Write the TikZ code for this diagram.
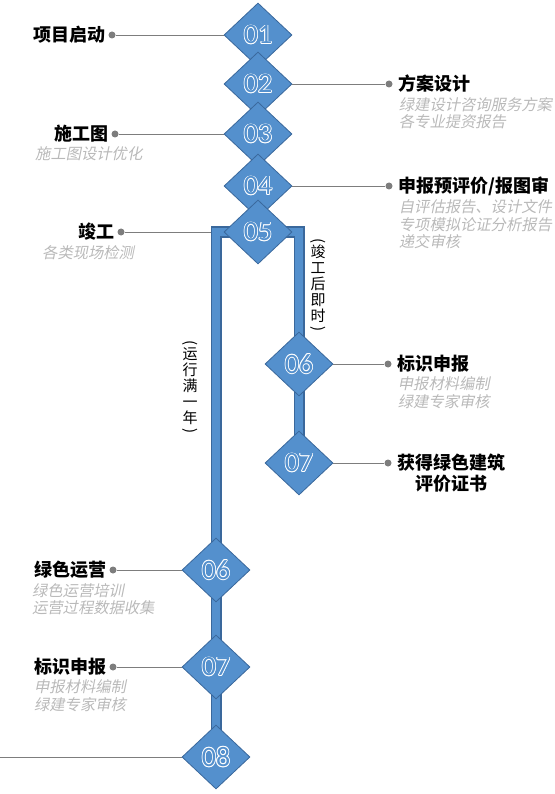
\documentclass[tikz,border=0pt]{standalone}
\usepackage{fontspec}
\usepackage{graphicx}
\setmainfont{Noto Sans CJK SC}
\newfontfamily\numfont{Carlito}
\newfontfamily\subfont{Noto Sans CJK SC}[FakeSlant=0.2]
\usetikzlibrary{positioning,shapes.geometric,backgrounds}

\definecolor{dblue}{RGB}{84,144,205}
\definecolor{bblue}{RGB}{58,104,156}
\definecolor{lgray}{RGB}{185,185,185}
\definecolor{dgray}{RGB}{125,125,125}

% white outlined numbers
\newcommand\outnum[1]{%
\foreach \dx/\dy in {0.8/0,-0.8/0,0/0.8,0/-0.8,0.55/0.55,-0.55/0.55,0.55/-0.55,-0.55/-0.55}{%
\rlap{\hspace*{\dx pt}\raisebox{\dy pt}{\color{white}#1}}}%
\textcolor{dblue}{#1}}
% turned bracket for upright text
\newcommand\vbr[1]{\rotatebox[origin=c]{-90}{#1}}

\begin{document}
\begin{tikzpicture}[x=1pt,y=-1pt]
\tikzstyle{stage}=[diamond,draw=bblue,line width=0.8pt,fill=dblue,minimum width=68pt,minimum height=64pt,inner sep=0pt,font=\numfont\fontsize{28}{28}\selectfont];
\tikzstyle{knob}=[circle,fill=dgray,minimum size=7pt,inner sep=0pt];
\tikzstyle{headline}=[inner sep=0pt,font=\bfseries\fontsize{18}{21}\selectfont];
\tikzstyle{subline}=[inner sep=0pt,align=left,text=lgray,font=\subfont\fontsize{15.3}{17.5}\selectfont];
\tikzstyle{link}=[dgray,line width=0.9pt];
\tikzstyle{track}=[bblue,line width=1.3pt,double=dblue,double distance=8.4pt];
\tikzstyle{vlabel}=[inner sep=0pt,align=center,font=\fontsize{15}{16}\selectfont];

\useasboundingbox (0,0) rectangle (554,794);

% main line
\node[stage] (d01) at (258,35) {\outnum{01}};
\node[stage] (d02) at (258,84) {\outnum{02}};
\node[stage] (d03) at (258,134) {\outnum{03}};
\node[stage] (d04) at (258,186) {\outnum{04}};
\node[stage] (d05) at (258,232) {\outnum{05}};
% right branch
\node[stage] (r06) at (299,364) {\outnum{06}};
\node[stage] (r07) at (299,463) {\outnum{07}};
% left branch
\node[stage] (l06) at (216,570) {\outnum{06}};
\node[stage] (l07) at (216,667) {\outnum{07}};
\node[stage] (l08) at (216,757) {\outnum{08}};

\node[knob] (k01) at (112,35) {};
\node[knob] (k02) at (389,84) {};
\node[knob] (k03) at (115,134) {};
\node[knob] (k04) at (389,186) {};
\node[knob] (k05) at (121,232) {};
\node[knob] (kr06) at (388,364) {};
\node[knob] (kr07) at (388,463) {};
\node[knob] (kl06) at (113,570) {};
\node[knob] (kl07) at (113,667) {};

\node[headline,left=3pt of k01] (t01) {项目启动};
\node[headline,right=6pt of k02] (t02) {方案设计};
\node[subline,below right=4pt and 0pt of t02.south west] (s02) {绿建设计咨询服务方案\\各专业提资报告};
\node[headline,left=3pt of k03] (t03) {施工图};
\node[subline,anchor=north west] (s03) at (35,146) {施工图设计优化};
\node[headline,right=6pt of k04] (t04) {申报预评价/报图审};
\node[subline,below right=4pt and 0pt of t04.south west] (s04) {自评估报告、设计文件\\专项模拟论证分析报告\\递交审核};
\node[headline,left=3pt of k05] (t05) {竣工};
\node[subline,anchor=north west] (s05) at (42,245) {各类现场检测};
\node[headline,right=6pt of kr06] (tr06) {标识申报};
\node[subline,below right=4pt and 0pt of tr06.south west] (sr06) {申报材料编制\\绿建专家审核};
\node[headline,right=6pt of kr07,align=center,yshift=-10.5pt] (tr07) {获得绿色建筑\\评价证书};
\node[headline,left=3pt of kl06] (tl06) {绿色运营};
\node[subline,below right=4pt and -2pt of tl06.south west] (sl06) {绿色运营培训\\运营过程数据收集};
\node[headline,left=3pt of kl07] (tl07) {标识申报};
\node[subline,below right=4pt and 0pt of tl07.south west] (sl07) {申报材料编制\\绿建专家审核};

\node[vlabel] (v1) at (318,286) {\vbr{(}\\[-4pt]竣\\工\\后\\即\\时\\[-4pt]\vbr{)}};
\node[vlabel] (v2) at (190,388) {\vbr{(}\\[-4pt]运\\行\\满\\一\\年\\[-4pt]\vbr{)}};

\begin{pgfonlayer}{background}
\draw[link] (k01) -- (d01.west);
\draw[link] (k02) -- (d02.east);
\draw[link] (k03) -- (d03.west);
\draw[link] (k04) -- (d04.east);
\draw[link] (k05) -- (d05.west);
\draw[link] (kr06) -- (r06.east);
\draw[link] (kr07) -- (r07.east);
\draw[link] (kl06) -- (l06.west);
\draw[link] (kl07) -- (l07.west);
\coordinate (edge) at (0,757);
\draw[link] (edge) -- (l08.west);
\draw[track] (d05.center) -| (l08.center);
\draw[track] (d05.center) -| (r07.center);
\end{pgfonlayer}
\end{tikzpicture}
\end{document}
